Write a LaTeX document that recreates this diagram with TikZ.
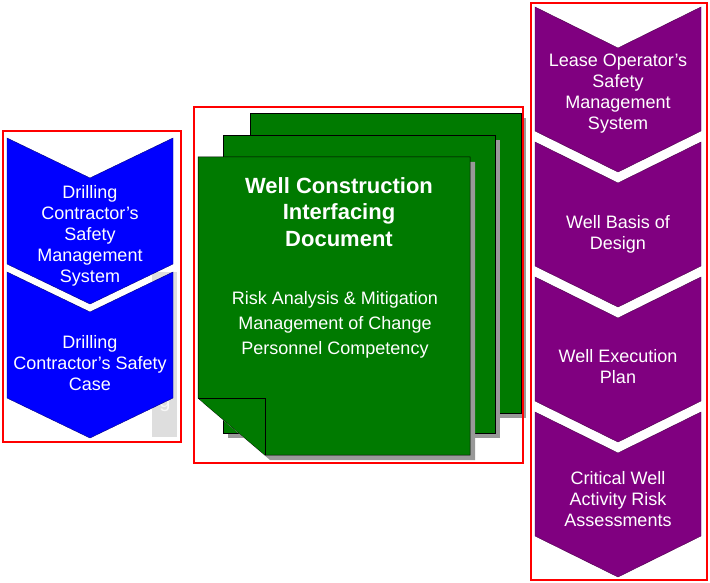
\documentclass[tikz,border=0pt]{standalone}
\usepackage{fontspec}
\setmainfont{Liberation Sans}
\usepackage{tikz}
\usepackage{xcolor}
\definecolor{drillblue}{RGB}{0,0,255}
\definecolor{docgreen}{RGB}{0,122,0}
\definecolor{leasepurple}{RGB}{128,0,128}
\definecolor{ghostgray}{RGB}{222,222,222}

\begin{document}
\begin{tikzpicture}[x=1pt,y=-1pt,
    frame/.style={draw=red,line width=1.5pt},
    chevtext/.style={text=white,align=center,font=\fontsize{18}{21}\selectfont},
    page/.style={fill=docgreen,draw=black,line width=0.5pt},
    pageshadow/.style={fill=black!40}]
\useasboundingbox (0,0) rectangle (710,583);

% drilling contractor
\fill[ghostgray] (152,272) rectangle (177,437);
\node[text=white!97!black,font=\fontsize{20}{21}\selectfont] (ghost) at (165,404) {g};
\foreach \t/\c/\txt/\nm in {138/236/{Drilling\\Contractor's\\Safety\\Management\\System}/dsms,
                            272/363/{Drilling\\Contractor's Safety\\Case}/dcase}{
  \draw[fill=drillblue,draw=blue!50!black,line width=0.4pt] (7,\t) -- (90,\t+40) -- (173,\t)
    -- (173,\t+126) -- (90,\t+166) -- (7,\t+126) -- cycle;
  \node[chevtext] (\nm) at (90,\c) {\txt};
}

% interfacing document
\fill[pageshadow] (255,118) rectangle (526,418);
\draw[page] (250,113) rectangle (521,413);
\fill[pageshadow] (228,140) rectangle (500,438);
\draw[page] (223,135) rectangle (495,433);
\fill[pageshadow] (203,162) -- (475,162) -- (475,460) -- (270,460) -- (203,403) -- cycle;
\draw[page] (198,157) -- (470,157) -- (470,455) -- (265,455) -- (198,398) -- cycle;
\draw[page] (198,398) -- (265,398) -- (265,455);
\node[text=white,align=center,font=\bfseries\fontsize{22}{26.5}\selectfont] (title) at (339,212)
  {Well Construction\\Interfacing\\Document};
\node[text=white,align=center,font=\fontsize{18}{25}\selectfont] (topics) at (335,325)
  {Risk Analysis \& Mitigation\\Management of Change\\Personnel Competency};

% lease operator
\foreach \t/\c/\txt/\nm in {7/94/{Lease Operator's\\Safety\\Management\\System}/lsms,
                            142/234/{Well Basis of\\Design}/basis,
                            277/367/{Well Execution\\Plan}/plan,
                            412/499/{Critical Well\\Activity Risk\\Assessments}/risk}{
  \draw[fill=leasepurple,draw=leasepurple!60!black,line width=0.4pt] (535,\t) -- (618,\t+41) -- (701,\t)
    -- (701,\t+124) -- (618,\t+165) -- (535,\t+124) -- cycle;
  \node[chevtext] (\nm) at (618,\c) {\txt};
}

% red frames
\draw[frame] (3,131) rectangle (181,442);
\draw[frame] (194,107) rectangle (523,463);
\draw[frame] (531,3) rectangle (707,580);
\end{tikzpicture}
\end{document}
